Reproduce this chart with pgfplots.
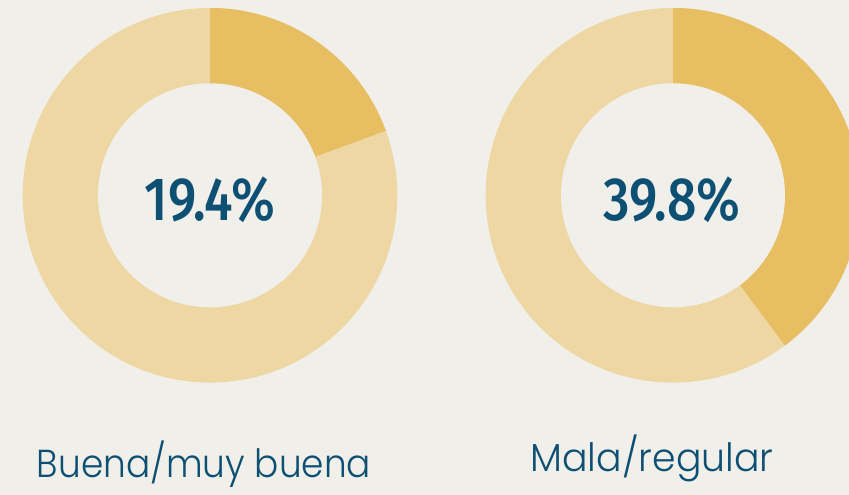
\documentclass[border=0pt]{standalone}
\usepackage{pgfplots}
\pgfplotsset{compat=1.18}
\usepackage{fontspec}
\setmainfont{Fira Sans}
\newfontfamily\pctfont{Fira Sans}[UprightFont=* Medium]
\newfontfamily\labfont{Poppins}[UprightFont=* Light]
\definecolor{bgc}{HTML}{F0EFEA}
\definecolor{darkg}{HTML}{E8BE62}
\definecolor{lightg}{HTML}{EED7A3}
\definecolor{txt}{HTML}{0E5073}
\begin{document}
\begin{tikzpicture}
% shares (percent)
\def\pA{19.4}
\def\pB{39.8}
\pgfmathsetmacro\aA{90-3.6*\pA}
\pgfmathsetmacro\aB{90-3.6*\pB}
\begin{axis}[
  x=1pt, y=1pt,
  xmin=0, xmax=849, ymin=0, ymax=495,
  hide axis,
  axis background/.style={fill=bgc},
  clip mode=global,
]
\addplot[draw=none, fill=bgc] coordinates {(0,0) (849,0) (849,495) (0,495)} -- cycle;
% donut 1
\fill[lightg] (axis cs:210,299.7) circle[radius=187.3pt];
\fill[darkg] (axis cs:210,299.7) -- ++(90:187.3pt) arc[start angle=90, end angle=\aA, radius=187.3pt] -- cycle;
\fill[bgc] (axis cs:210,299.7) circle[radius=112pt];
% donut 2
\fill[lightg] (axis cs:673,299.7) circle[radius=187.3pt];
\fill[darkg] (axis cs:673,299.7) -- ++(90:187.3pt) arc[start angle=90, end angle=\aB, radius=187.3pt] -- cycle;
\fill[bgc] (axis cs:673,299.7) circle[radius=112pt];
% texts
\node[anchor=base, text=txt, inner sep=0pt] at (axis cs:210,274) {\scalebox{0.85}[1]{\pctfont\fontsize{61}{61}\selectfont 19.4\%}};
\node[anchor=base, text=txt, inner sep=0pt] at (axis cs:672,274) {\scalebox{0.85}[1]{\pctfont\fontsize{61}{61}\selectfont 39.8\%}};
\node[anchor=base, text=txt, inner sep=0pt] at (axis cs:204,17) {\scalebox{0.92}[1]{\labfont\fontsize{39}{39}\selectfont Buena/muy buena}};
\node[anchor=base, text=txt, inner sep=0pt] at (axis cs:652,23) {\scalebox{0.97}[1]{\labfont\fontsize{39}{39}\selectfont Mala/regular}};
\end{axis}
\end{tikzpicture}
\end{document}
